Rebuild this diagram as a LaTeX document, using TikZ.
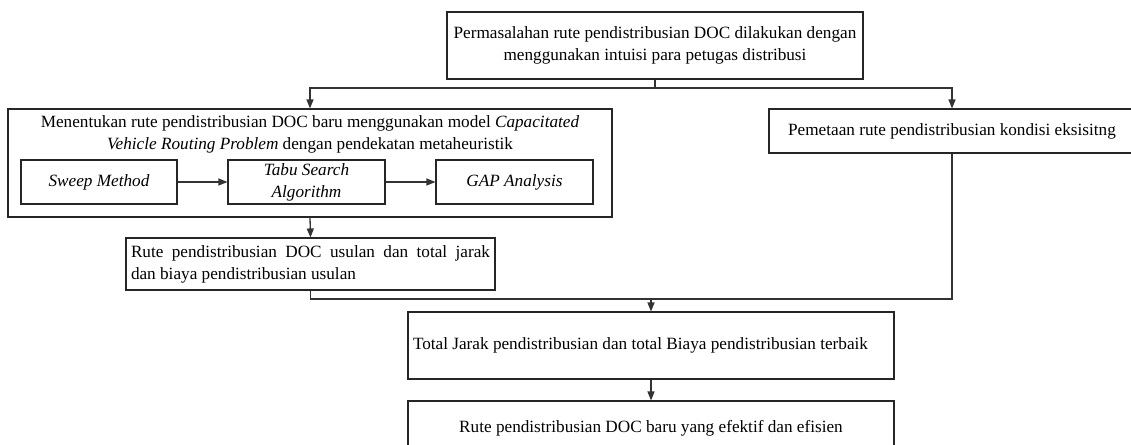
\documentclass[tikz,border=0pt]{standalone}
\usepackage{fontspec}
\setmainfont{Liberation Serif}
\usetikzlibrary{arrows.meta}
\tikzset{
  box/.style={draw=black!85, line width=1.1pt, inner sep=0pt, align=center,
    font=\fontsize{17.2}{22}\selectfont},
  conn/.style={draw=black!80, line width=1.3pt},
  arr/.style={conn, -{Triangle[length=9pt,width=7pt]}},
  ttl/.style={inner sep=0pt, align=center, font=\fontsize{17.2}{22}\selectfont}
}
\begin{document}
\begin{tikzpicture}[x=1pt, y=-1pt]
\useasboundingbox (0,0) rectangle (1131,444);
\clip (0,0) rectangle (1131,444);

\node[box, minimum width=416pt, minimum height=67pt] (top) at (655,45.5)
  {Permasalahan rute pendistribusian DOC dilakukan dengan\\menggunakan intuisi para petugas distribusi};

\node[box, minimum width=604pt, minimum height=108pt] (big) at (310,163) {};
\node[ttl] (bigttl) at (310,134)
  {Menentukan rute pendistribusian DOC baru menggunakan model \textit{Capacitated}\\\textit{Vehicle Routing Problem} dengan pendekatan metaheuristik};

\node[box, minimum width=156pt, minimum height=44pt] (sweep) at (99,182) {\textit{Sweep Method}};
\node[box, minimum width=157pt, minimum height=44pt] (tabu) at (306.5,182) {\textit{Tabu Search}\\\textit{Algorithm}};
\node[box, minimum width=157pt, minimum height=44pt] (gap) at (514.5,182) {\textit{GAP Analysis}};

\node[box, minimum width=366pt, minimum height=44pt] (pem) at (952,131) {Pemetaan rute pendistribusian kondisi eksisitng};

\node[box, text width=359pt, inner xsep=5pt, minimum height=52pt, align=justify] (rute) at (310.5,264)
  {Rute pendistribusian DOC usulan dan total jarak\linebreak dan biaya pendistribusian usulan};

\node[box, text width=476pt, inner xsep=5pt, minimum height=67pt, align=flush left] (total) at (651,345.5)
  {Total Jarak pendistribusian dan total Biaya pendistribusian terbaik};

\node[box, minimum width=486pt, minimum height=54pt] (final) at (651,428)
  {Rute pendistribusian DOC baru yang efektif dan efisien};

\coordinate (j1) at (655,88);
\coordinate (j2) at (651,299);

\draw[conn] (top.south) -- (j1);
\draw[arr] (j1) -| (big.north);
\draw[arr] (j1) -| (pem.north);
\draw[arr] (sweep.east) -- (tabu.west);
\draw[arr] (tabu.east) -- (gap.west);
\draw[arr] (big.south) -- (rute.north);
\draw[conn] (rute.south) |- (j2);
\draw[conn] (pem.south) |- (j2);
\draw[arr] (j2) -- (total.north);
\draw[arr] (total.south) -- (final.north);
\end{tikzpicture}
\end{document}
